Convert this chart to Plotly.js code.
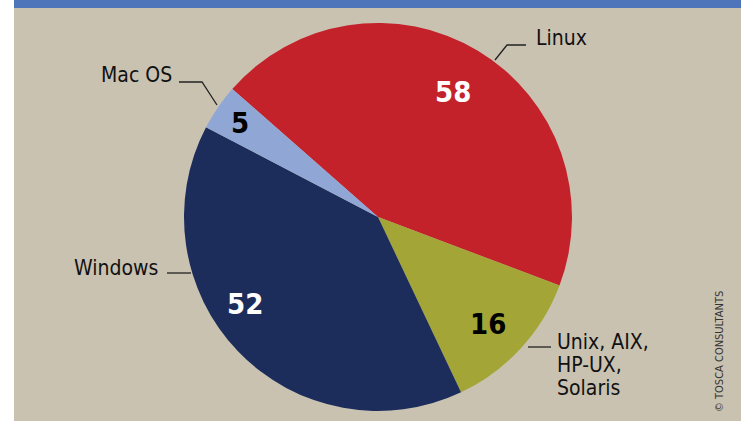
<!DOCTYPE html>
<html>
<head>
<meta charset="utf-8">
<script src="https://cdn.plot.ly/plotly-3.0.1.min.js"></script>
<style>
  html, body { margin: 0; padding: 0; background: #ffffff; }
  #chart { width: 743px; height: 421px; }
</style>
</head>
<body>
<div id="chart"></div>
<script>
// ---- data ----
const categories = ['Linux', 'Unix, AIX, HP-UX, Solaris', 'Windows', 'Mac OS'];
const values = [58, 16, 52, 5];
const labelLines = [['Linux'], ['Unix, AIX,', 'HP-UX,', 'Solaris'], ['Windows'], ['Mac OS']];
const copyrightText = '© TOSCA CONSULTANTS';

// ---- styles ----
const sliceColors = ['#c4222b', '#a3a537', '#1c2d5c', '#90a7d5'];
const numberColors = ['#ffffff', '#000000', '#ffffff', '#000000'];
const W = 743, H = 421;
const cx = 378, cy = 217, R = 194;        // pie centre / radius in px
const rotation = 311.3;                   // start angle of first slice (clockwise from 12 o'clock)
const numRadius = [0.75, 0.79, 0.82, 0.86];
const numAngleShift = [0, 1.7, 10.8, 0];
const FONT = '"DejaVu Sans Condensed", "Liberation Sans Narrow", "Arial Narrow", sans-serif';

const px = x => x / W;
const py = y => 1 - y / H;

// label placement (px): anchor point, alignment
const labelPos = [
  {x: 534, y: 38, xanchor: 'left'},
  {x: 555, y: 342, xanchor: 'left'},
  {x: 160, y: 268, xanchor: 'right'},
  {x: 174, y: 75, xanchor: 'right'}
];
const lineGap = 23;
// leader lines (px polylines)
const leaders = [
  [[526, 45], [507, 45], [495, 60]],
  [[528, 347], [551, 347]],
  [[167, 273], [191, 273]],
  [[179, 82], [202, 82], [217, 105]]
];

const total = values.reduce((a, b) => a + b, 0);

const trace = {
  type: 'pie',
  labels: categories,
  values: values,
  sort: false,
  direction: 'clockwise',
  rotation: rotation,
  textinfo: 'none',
  hoverinfo: 'label+value',
  marker: {colors: sliceColors, line: {width: 0}},
  domain: {x: [px(cx - R), px(cx + R)], y: [py(cy + R), py(cy - R)]},
  showlegend: false
};

const annotations = [];
let cum = 0;
values.forEach((v, i) => {
  const mid = rotation + (cum + v / 2) / total * 360 + numAngleShift[i];
  cum += v;
  const a = mid * Math.PI / 180;
  const r = R * numRadius[i];
  annotations.push({
    x: px(cx + r * Math.sin(a)), y: py(cy - r * Math.cos(a)),
    xref: 'paper', yref: 'paper', showarrow: false,
    text: String(v),
    font: {family: FONT, size: 29, color: numberColors[i], weight: 'bold'},
    xanchor: 'center', yanchor: 'middle'
  });
  labelLines[i].forEach((t, k) => {
    annotations.push({
      x: px(labelPos[i].x), y: py(labelPos[i].y + k * lineGap),
      xref: 'paper', yref: 'paper', showarrow: false,
      text: t,
      font: {family: FONT, size: 21, color: '#111111'},
      xanchor: labelPos[i].xanchor, yanchor: 'middle'
    });
  });
});
annotations.push({
  x: px(719), y: py(352), xref: 'paper', yref: 'paper', showarrow: false,
  text: copyrightText, textangle: -90,
  font: {family: FONT, size: 11, color: '#333333'},
  xanchor: 'center', yanchor: 'middle'
});

const shapes = [
  {type: 'rect', xref: 'paper', yref: 'paper', x0: px(14), x1: px(741), y0: 0, y1: 1,
   fillcolor: '#c9c2b1', line: {width: 0}, layer: 'below'},
  {type: 'rect', xref: 'paper', yref: 'paper', x0: px(14), x1: px(741), y0: py(8), y1: 1,
   fillcolor: '#4e74b9', line: {width: 0}, layer: 'below'}
];
leaders.forEach(pts => {
  shapes.push({
    type: 'path', xref: 'paper', yref: 'paper',
    path: pts.map((p, k) => (k ? 'L' : 'M') + px(p[0]) + ',' + py(p[1])).join(' '),
    line: {color: '#222222', width: 1.3}, layer: 'above'
  });
});

const layout = {
  width: W, height: H,
  margin: {l: 0, r: 0, t: 0, b: 0},
  paper_bgcolor: '#ffffff',
  annotations: annotations,
  shapes: shapes
};

Plotly.newPlot('chart', [trace], layout, {displayModeBar: false, staticPlot: true});
</script>
</body>
</html>
